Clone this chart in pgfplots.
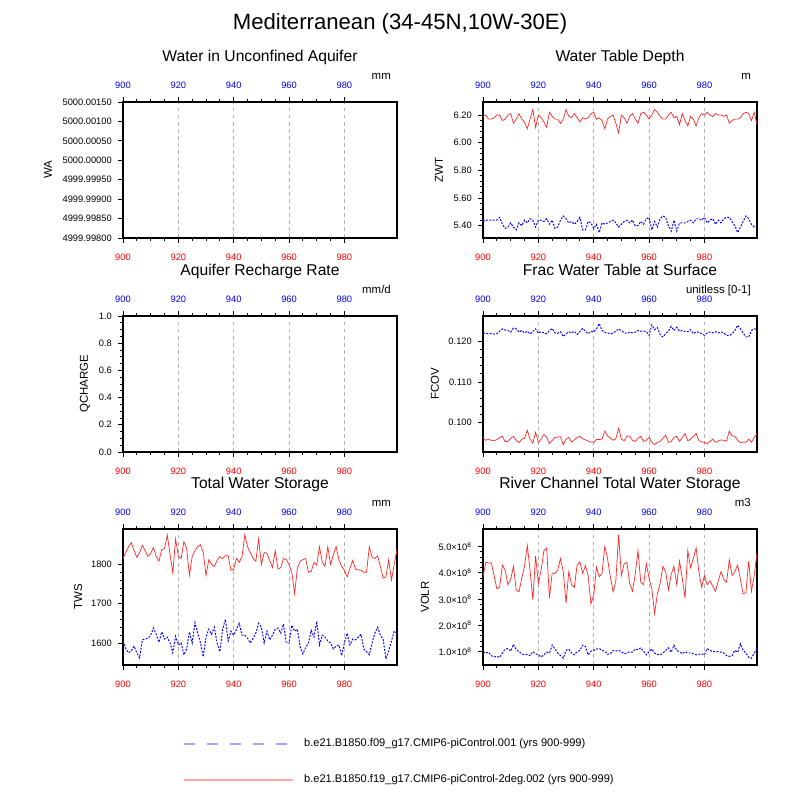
\documentclass[border=0pt]{standalone}
\usepackage{fontspec}
\setmainfont{Liberation Sans}
\usepackage{pgfplots}
\usepackage{pgfplotstable}
\pgfplotsset{compat=1.18}

% 1 px of the 800x800 reference = 0.02cm

% ZWT (m): blue = f09 run, red = f19 run
\pgfplotstableread{
yr b r
900 5.43 6.19
901 5.44 6.20
902 5.44 6.17
903 5.44 6.17
904 5.44 6.18
905 5.44 6.20
906 5.46 6.20
907 5.41 6.16
908 5.38 6.17
909 5.39 6.20
910 5.42 6.21
911 5.39 6.14
912 5.37 6.17
913 5.42 6.21
914 5.40 6.17
915 5.44 6.15
916 5.42 6.10
917 5.45 6.17
918 5.44 6.24
919 5.39 6.11
920 5.44 6.20
921 5.44 6.18
922 5.43 6.15
923 5.45 6.11
924 5.41 6.22
925 5.44 6.19
926 5.38 6.17
927 5.39 6.17
928 5.44 6.14
929 5.47 6.17
930 5.45 6.24
931 5.42 6.19
932 5.43 6.18
933 5.41 6.21
934 5.43 6.18
935 5.46 6.15
936 5.37 6.18
937 5.37 6.17
938 5.43 6.18
939 5.42 6.21
940 5.38 6.22
941 5.41 6.17
942 5.35 6.18
943 5.42 6.16
944 5.41 6.10
945 5.42 6.17
946 5.43 6.19
947 5.44 6.20
948 5.42 6.14
949 5.39 6.07
950 5.41 6.20
951 5.43 6.18
952 5.44 6.14
953 5.42 6.19
954 5.44 6.21
955 5.40 6.17
956 5.40 6.14
957 5.43 6.21
958 5.41 6.22
959 5.45 6.20
960 5.46 6.17
961 5.37 6.20
962 5.43 6.24
963 5.39 6.22
964 5.45 6.19
965 5.47 6.17
966 5.46 6.17
967 5.40 6.20
968 5.36 6.22
969 5.44 6.18
970 5.36 6.19
971 5.42 6.13
972 5.42 6.21
973 5.42 6.16
974 5.43 6.12
975 5.44 6.19
976 5.42 6.17
977 5.45 6.12
978 5.45 6.18
979 5.44 6.21
980 5.46 6.20
981 5.42 6.22
982 5.44 6.20
983 5.45 6.19
984 5.41 6.21
985 5.44 6.20
986 5.42 6.20
987 5.45 6.19
988 5.46 6.20
989 5.46 6.14
990 5.43 6.16
991 5.40 6.17
992 5.35 6.17
993 5.39 6.18
994 5.43 6.21
995 5.47 6.22
996 5.45 6.21
997 5.41 6.16
998 5.39 6.22
999 5.39 6.13
}\zwt

% FCOV (unitless)
\pgfplotstableread{
yr b r
900 .1222 .0961
901 .1221 .0955
902 .1220 .0958
903 .1220 .0955
904 .1219 .0954
905 .1220 .0957
906 .1226 .0962
907 .1232 .0965
908 .1229 .0952
909 .1228 .0952
910 .1224 .0960
911 .1234 .0965
912 .1232 .0955
913 .1224 .0949
914 .1228 .0958
915 .1222 .0960
916 .1226 .0980
917 .1219 .0958
918 .1226 .0948
919 .1232 .0975
920 .1221 .0950
921 .1225 .0958
922 .1222 .0970
923 .1220 .0963
924 .1228 .0947
925 .1233 .0955
926 .1222 .0962
927 .1221 .0963
928 .1225 .0964
929 .1213 .0944
930 .1219 .0958
931 .1225 .0962
932 .1222 .0951
933 .1226 .0956
934 .1218 .0962
935 .1225 .0965
936 .1233 .0959
937 .1226 .0956
938 .1220 .0953
939 .1226 .0951
940 .1224 .0950
941 .1232 .0957
942 .1245 .0957
943 .1228 .0958
944 .1223 .0978
945 .1222 .0966
946 .1219 .0961
947 .1222 .0955
948 .1226 .0959
949 .1232 .0985
950 .1228 .0958
951 .1222 .0954
952 .1221 .0966
953 .1224 .0965
954 .1222 .0955
955 .1224 .0952
956 .1228 .0960
957 .1226 .0965
958 .1227 .0952
959 .1225 .0955
960 .1216 .0962
961 .1242 .0950
962 .1230 .0944
963 .1235 .0950
964 .1218 .0952
965 .1212 .0960
966 .1220 .0968
967 .1226 .0950
968 .1238 .0952
969 .1228 .0962
970 .1236 .0965
971 .1226 .0952
972 .1228 .0962
973 .1225 .0972
974 .1225 .0954
975 .1230 .0958
976 .1220 .0965
977 .1224 .0972
978 .1224 .0954
979 .1220 .0951
980 .1216 .0950
981 .1222 .0946
982 .1224 .0952
983 .1222 .0958
984 .1225 .0950
985 .1222 .0953
986 .1224 .0956
987 .1222 .0955
988 .1216 .0953
989 .1215 .0978
990 .1220 .0966
991 .1228 .0965
992 .1241 .0955
993 .1232 .0949
994 .1222 .0951
995 .1212 .0950
996 .1212 .0958
997 .1228 .0950
998 .1232 .0962
999 .1231 .0971
}\fcov

% TWS (mm)
\pgfplotstableread{
yr b r
900 1605 1815
901 1585 1830
902 1575 1845
903 1580 1855
904 1592 1835
905 1575 1818
906 1562 1830
907 1608 1848
908 1610 1835
909 1612 1820
910 1620 1828
911 1638 1843
912 1622 1820
913 1602 1808
914 1628 1838
915 1610 1840
916 1615 1875
917 1600 1825
918 1575 1778
919 1617 1865
920 1595 1820
921 1600 1815
922 1570 1858
923 1585 1840
924 1628 1772
925 1600 1820
926 1652 1835
927 1625 1845
928 1600 1850
929 1565 1830
930 1615 1772
931 1635 1812
932 1622 1800
933 1640 1795
934 1600 1810
935 1578 1820
936 1635 1815
937 1660 1822
938 1605 1822
939 1630 1785
940 1620 1788
941 1635 1815
942 1650 1805
943 1620 1820
944 1620 1875
945 1612 1845
946 1600 1830
947 1612 1815
948 1625 1808
949 1650 1865
950 1640 1800
951 1600 1830
952 1630 1828
953 1608 1810
954 1620 1792
955 1635 1835
956 1638 1788
957 1625 1792
958 1648 1815
959 1600 1812
960 1600 1800
961 1645 1780
962 1630 1725
963 1635 1790
964 1590 1808
965 1572 1812
966 1588 1815
967 1600 1780
968 1632 1782
969 1615 1805
970 1655 1798
971 1595 1845
972 1620 1805
973 1615 1795
974 1605 1845
975 1600 1800
976 1585 1825
977 1592 1845
978 1595 1812
979 1568 1795
980 1600 1785
981 1625 1768
982 1595 1790
983 1610 1810
984 1608 1788
985 1615 1786
986 1622 1785
987 1585 1780
988 1578 1780
989 1570 1845
990 1600 1818
991 1625 1815
992 1640 1822
993 1620 1795
994 1610 1765
995 1560 1768
996 1580 1812
997 1605 1760
998 1630 1800
999 1625 1838
}\tws

% VOLR (units of 1e8 m3)
\pgfplotstableread{
yr b r
900 1.00 3.85
901 0.95 4.40
902 0.98 4.38
903 0.85 4.38
904 0.80 3.90
905 0.82 3.40
906 0.78 3.45
907 0.95 4.30
908 1.10 4.10
909 1.12 3.55
910 1.02 3.75
911 1.28 4.25
912 1.08 3.35
913 1.00 3.28
914 0.92 3.80
915 0.88 4.25
916 0.90 5.05
917 0.85 4.10
918 1.00 2.98
919 0.92 4.65
920 0.88 3.60
921 0.80 4.10
922 0.88 4.85
923 0.98 4.95
924 0.95 3.05
925 1.25 4.00
926 1.10 3.98
927 0.95 4.12
928 0.85 4.55
929 0.75 4.05
930 1.05 2.85
931 1.10 4.05
932 0.95 3.55
933 0.88 3.45
934 1.00 4.30
935 1.05 4.42
936 1.25 3.98
937 1.20 4.28
938 0.88 3.90
939 1.02 2.82
940 1.05 3.15
941 1.10 4.22
942 1.12 3.85
943 1.05 3.98
944 1.02 5.00
945 0.90 4.55
946 0.92 3.85
947 1.05 3.28
948 1.02 3.70
949 1.05 5.45
950 1.00 3.90
951 0.92 4.35
952 0.95 4.40
953 1.00 3.60
954 0.98 3.30
955 1.10 3.95
956 1.08 4.85
957 1.15 3.65
958 1.02 3.55
959 0.88 4.35
960 1.00 3.80
961 1.10 3.40
962 0.95 2.45
963 0.90 3.20
964 0.88 3.60
965 0.95 4.25
966 1.05 4.05
967 1.15 3.35
968 0.98 3.95
969 1.25 4.25
970 1.05 3.55
971 1.00 4.45
972 0.92 3.80
973 1.00 3.05
974 0.95 4.85
975 0.95 4.20
976 0.92 4.55
977 0.88 4.95
978 0.90 4.05
979 0.92 3.45
980 0.88 3.90
981 1.12 3.55
982 1.05 3.70
983 1.00 3.50
984 1.00 3.30
985 1.00 3.70
986 0.98 4.05
987 0.95 3.75
988 0.85 3.65
989 0.82 4.50
990 0.85 3.90
991 1.05 4.05
992 0.98 4.30
993 1.30 3.75
994 1.05 3.20
995 0.95 3.25
996 0.78 4.45
997 0.75 3.30
998 0.95 3.90
999 1.12 4.75
}\volr

\pgfplotsset{
  ncl/.style={
    scale only axis, width=5.48cm, height=2.72cm,
    xmin=900, xmax=999,
    xtick={900,920,940,960,980}, minor x tick num=3,
    tick align=outside, ytick pos=left,
    major tick length=0.1cm, minor tick length=0.055cm,
    every tick/.append style={black, line width=0.5pt},
    axis line style={line width=0.8pt},
    xmajorgrids,
    major x grid style={gray!60, dash pattern=on 2pt off 2pt, line width=0.4pt},
    /pgf/number format/assume math mode=true,
    /pgf/number format/1000 sep={},
    tick label style={font=\fontsize{5.3}{6}\selectfont},
    xticklabel style={red, yshift=-0.1cm},
    label style={font=\fontsize{6.5}{8}\selectfont},
    ylabel style={anchor=center},
    title style={font=\fontsize{8.9}{10}\selectfont, at={(axis description cs:0.5,1)}, anchor=base, yshift=0.6cm},
  },
  ncltop/.style={
    scale only axis, width=5.48cm, height=2.72cm,
    xmin=900, xmax=999, ymin=0, ymax=1,
    xtick={900,920,940,960,980},
    hide y axis, axis x line*=top,
    x axis line style={draw=none}, major tick length=0pt,
    /pgf/number format/assume math mode=true,
    xticklabel style={blue, font=\fontsize{5.3}{6}\selectfont, yshift=0.14cm},
  },
  unit/.style={extra description/.code={
    \node[anchor=base east, font=\fontsize{6.5}{8}\selectfont, yshift=0.44cm] at (1,1) {#1};}},
  bl/.style={blue, line width=0.55pt, dash pattern=on 1.1pt off 0.8pt},
  rl/.style={red!85, line width=0.4pt},
}

\begin{document}
\begin{tikzpicture}
\path[use as bounding box] (0,0) rectangle (16cm,16cm);
\node[font=\fontsize{12.6}{14}\selectfont] at (8cm,15.53cm) {Mediterranean (34-45N,10W-30E)};

% ---- Water in Unconfined Aquifer (y in 1e-5 mm from 5000)
\begin{axis}[ncl, at={(2.46cm,11.24cm)}, anchor=south west, axis on top,
  title={Water in Unconfined Aquifer}, ylabel={WA}, unit=mm,
  ylabel style={at={(axis description cs:-0.274,0.5)}},
  ymin=-200, ymax=150, ytick={-200,-150,-100,-50,0,50,100,150},
  yticklabels={4999.99800,4999.99850,4999.99900,4999.99950,5000.00000,5000.00050,5000.00100,5000.00150}]
\addplot[bl] coordinates {(900,-200) (999,-200)};
\addplot[rl, line width=1.2pt] coordinates {(900,150) (999,150)};
\end{axis}
\begin{axis}[ncltop, at={(2.46cm,11.24cm)}, anchor=south west]
\end{axis}

% ---- Water Table Depth
\begin{axis}[ncl, at={(9.66cm,11.24cm)}, anchor=south west,
  title={Water Table Depth}, ylabel={ZWT}, unit=m,
  ylabel style={at={(axis description cs:-0.161,0.5)}},
  ymin=5.311, ymax=6.294, ytick={5.4,5.6,5.8,6.0,6.2}, minor y tick num=4,
  yticklabel style={/pgf/number format/.cd, fixed, fixed zerofill, precision=2}]
\addplot[bl] table[x=yr, y=b] {\zwt};
\addplot[rl] table[x=yr, y=r] {\zwt};
\end{axis}
\begin{axis}[ncltop, at={(9.66cm,11.24cm)}, anchor=south west]
\end{axis}

% ---- Aquifer Recharge Rate
\begin{axis}[ncl, at={(2.46cm,6.96cm)}, anchor=south west, axis on top,
  title={Aquifer Recharge Rate}, ylabel={QCHARGE}, unit=mm/d,
  ylabel style={at={(axis description cs:-0.139,0.5)}},
  ymin=0, ymax=1, ytick={0,0.2,0.4,0.6,0.8,1.0}, minor y tick num=3,
  yticklabel style={/pgf/number format/.cd, fixed, fixed zerofill, precision=1}]
\addplot[rl] coordinates {(900,0) (999,0)};
\addplot[bl, line width=1.2pt] coordinates {(900,0) (999,0)};
\end{axis}
\begin{axis}[ncltop, at={(2.46cm,6.96cm)}, anchor=south west]
\end{axis}

% ---- Frac Water Table at Surface
\begin{axis}[ncl, at={(9.66cm,6.96cm)}, anchor=south west,
  title={Frac Water Table at Surface}, ylabel={FCOV}, unit={unitless [0-1]},
  ylabel style={at={(axis description cs:-0.175,0.5)}},
  ymin=0.0926, ymax=0.1264, ytick={0.100,0.110,0.120}, minor y tick num=4,
  yticklabel style={/pgf/number format/.cd, fixed, fixed zerofill, precision=3}]
\addplot[bl] table[x=yr, y=b] {\fcov};
\addplot[rl] table[x=yr, y=r] {\fcov};
\end{axis}
\begin{axis}[ncltop, at={(9.66cm,6.96cm)}, anchor=south west]
\end{axis}

% ---- Total Water Storage (+ legend)
\begin{axis}[ncl, at={(2.46cm,2.70cm)}, anchor=south west,
  title={Total Water Storage}, ylabel={TWS}, unit=mm,
  ylabel style={at={(axis description cs:-0.164,0.5)}},
  ymin=1544, ymax=1890, ytick={1600,1700,1800}, minor y tick num=4,
  legend cell align=left,
  legend image code/.code={\draw[#1] (0cm,-0.01cm) -- (2.18cm,-0.01cm);},
  legend style={at={(axis description cs:0.219,-0.525)}, anchor=north west,
    draw=none, fill=none, inner sep=0pt, row sep=0.46cm, column sep=0.2cm,
    font=\fontsize{6.3}{7}\selectfont,
    nodes={inner sep=0pt, text height=0.2cm, text depth=0.06cm}}]
\addplot[bl, forget plot] table[x=yr, y=b] {\tws};
\addplot[rl, forget plot] table[x=yr, y=r] {\tws};
\addlegendimage{blue!35, line width=1pt, dash pattern=on 0.22cm off 0.24cm}
\addlegendentry{b.e21.B1850.f09\_g17.CMIP6-piControl.001 (yrs 900-999)}
\addlegendimage{red!35, line width=1pt}
\addlegendentry{b.e21.B1850.f19\_g17.CMIP6-piControl-2deg.002 (yrs 900-999)}
\end{axis}
\begin{axis}[ncltop, at={(2.46cm,2.70cm)}, anchor=south west]
\end{axis}

% ---- River Channel Total Water Storage (y in 1e8 m3)
\begin{axis}[ncl, at={(9.66cm,2.70cm)}, anchor=south west,
  title={River Channel Total Water Storage}, ylabel={VOLR}, unit=m3,
  ylabel style={at={(axis description cs:-0.212,0.5)}},
  ymin=0.493, ymax=5.674, ytick={1,2,3,4,5}, minor y tick num=4,
  yticklabels={1.0×10\textsuperscript{8},2.0×10\textsuperscript{8},3.0×10\textsuperscript{8},4.0×10\textsuperscript{8},5.0×10\textsuperscript{8}}]
\addplot[bl] table[x=yr, y=b] {\volr};
\addplot[rl] table[x=yr, y=r] {\volr};
\end{axis}
\begin{axis}[ncltop, at={(9.66cm,2.70cm)}, anchor=south west]
\end{axis}
\end{tikzpicture}
\end{document}
